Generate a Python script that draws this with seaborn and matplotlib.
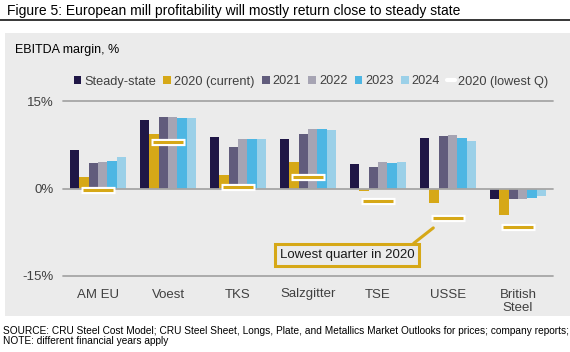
import matplotlib
matplotlib.use("Agg")
import matplotlib.pyplot as plt
import seaborn as sns
import pandas as pd
from matplotlib.patches import Patch, Rectangle
from matplotlib.lines import Line2D

# --- data (EBITDA margin, %) ---
companies = ["AM EU", "Voest", "TKS", "Salzgitter", "TSE", "USSE", "British\nSteel"]
series = ["Steady-state", "2020 (current)", "2021", "2022", "2023", "2024"]
steady_state = [6.6, 11.7, 8.8, 8.5, 4.2, 8.6, -1.85]
current_2020 = [1.9, 9.3, 2.3, 4.5, -0.45, -2.5, -4.6]
y2021 = [4.35, 12.25, 7.1, 9.3, 3.65, 9.0, -1.85]
y2022 = [4.5, 12.25, 8.5, 10.2, 4.5, 9.15, -1.85]
y2023 = [4.7, 12.05, 8.5, 10.2, 4.35, 8.6, -1.65]
y2024 = [5.4, 12.05, 8.5, 10.0, 4.5, 8.1, -1.3]
lowest_q_2020 = [-0.2, 8.0, 0.2, 1.9, -2.2, -5.0, -6.6]

colors = ["#1f1646", "#d6a817", "#615c7c", "#a6a4b3", "#4db6e3", "#9bd0e8"]
gold = "#d6a817"
panel_bg = "#ebebeb"
grid_col = "#a6a6a6"
text_col = "#404040"

df = pd.DataFrame({
    "company": companies * 6,
    "series": [s for s in series for _ in companies],
    "value": steady_state + current_2020 + y2021 + y2022 + y2023 + y2024,
})

sns.set_style("white")
plt.rcParams["font.family"] = ["Liberation Sans", "DejaVu Sans"]

fig = plt.figure(figsize=(5.7, 3.52), dpi=100)
fig.patch.set_facecolor("white")

# grey panel behind the chart
fig.patches.append(Rectangle((5 / 570, 1 - 316 / 352), 565 / 570, (316 - 33) / 352,
                             transform=fig.transFigure, facecolor=panel_bg,
                             edgecolor="none", zorder=-10))
# title and rule
fig.text(7 / 570, 1 - 11.5 / 352, "Figure 5: European mill profitability will mostly return close to steady state",
         fontsize=10, color="black", va="center", ha="left")
fig.add_artist(Line2D([0, 1], [1 - 19.5 / 352] * 2, transform=fig.transFigure,
                      color="black", lw=1.1))
fig.text(15 / 570, 1 - 50 / 352, "EBITDA margin, %", fontsize=9, color="black",
         va="center", ha="left")

ax = fig.add_axes([63 / 570, 1 - 276 / 352, 490 / 570, 175 / 352])
ax.set_facecolor("none")

sns.barplot(data=df, x="company", y="value", hue="series", hue_order=series,
            palette=colors, width=0.8, errorbar=None, legend=False,
            saturation=1, linewidth=0, edgecolor="none", ax=ax, zorder=3)

# lowest quarter markers: white halo then gold dash
sns.pointplot(x=companies, y=lowest_q_2020, linestyle="none", marker="_",
              markersize=25, markeredgewidth=5.2, color="white", errorbar=None,
              ax=ax, zorder=5)
sns.pointplot(x=companies, y=lowest_q_2020, linestyle="none", marker="_",
              markersize=21, markeredgewidth=2.2, color=gold, errorbar=None,
              ax=ax, zorder=6)

ax.set_ylim(-15, 15)
ax.set_xlim(-0.5, 6.5)
ax.set_yticks([-15, 0, 15])
ax.set_yticklabels(["-15%", "0%", "15%"])
for yv in [-15, 0, 15]:
    ax.axhline(yv, color=grid_col, lw=1.3, zorder=4 if yv == 0 else 1, clip_on=False)
sns.despine(ax=ax, left=True, bottom=True)
ax.tick_params(axis="both", length=0, labelsize=9.5, labelcolor=text_col)
ax.tick_params(axis="y", pad=7)
ax.tick_params(axis="x", pad=9)
ax.set_xlabel("")
ax.set_ylabel("")

# annotation for lowest quarter
ax.annotate("Lowest quarter in 2020", xy=(4.79, -6.75), xytext=(3.56, -11.4),
            fontsize=9.5, color="#1a1a1a", ha="center", va="center",
            bbox=dict(boxstyle="square,pad=0.35", facecolor=panel_bg, edgecolor=gold, lw=2.2),
            arrowprops=dict(arrowstyle="-", color=gold, lw=2.2, shrinkA=0, shrinkB=0,
                            relpos=(0.94, 1.0)),
            zorder=7)

# legend
handles = [Patch(facecolor=c, edgecolor="none", label=s) for s, c in zip(series, colors)]
handles.append(Line2D([], [], color="white", lw=3, label="2020 (lowest Q)"))
fig.legend(handles=handles, loc="center", bbox_to_anchor=(311 / 570, 1 - 81.5 / 352),
           ncol=7, frameon=False, fontsize=9.2, handlelength=0.6, handleheight=0.6,
           handletextpad=0.25, columnspacing=0.55, borderpad=0, borderaxespad=0,
           labelcolor=text_col)

# footnotes
fig.text(3 / 570, 1 - 331 / 352,
         "SOURCE: CRU Steel Cost Model; CRU Steel Sheet, Longs, Plate, and Metallics Market Outlooks for prices; company reports;",
         fontsize=7.25, color="black", va="center", ha="left")
fig.text(3 / 570, 1 - 341.5 / 352, "NOTE: different financial years apply",
         fontsize=7.25, color="black", va="center", ha="left")

fig.savefig("out.png", dpi=100, facecolor=fig.get_facecolor())
plt.close(fig)
